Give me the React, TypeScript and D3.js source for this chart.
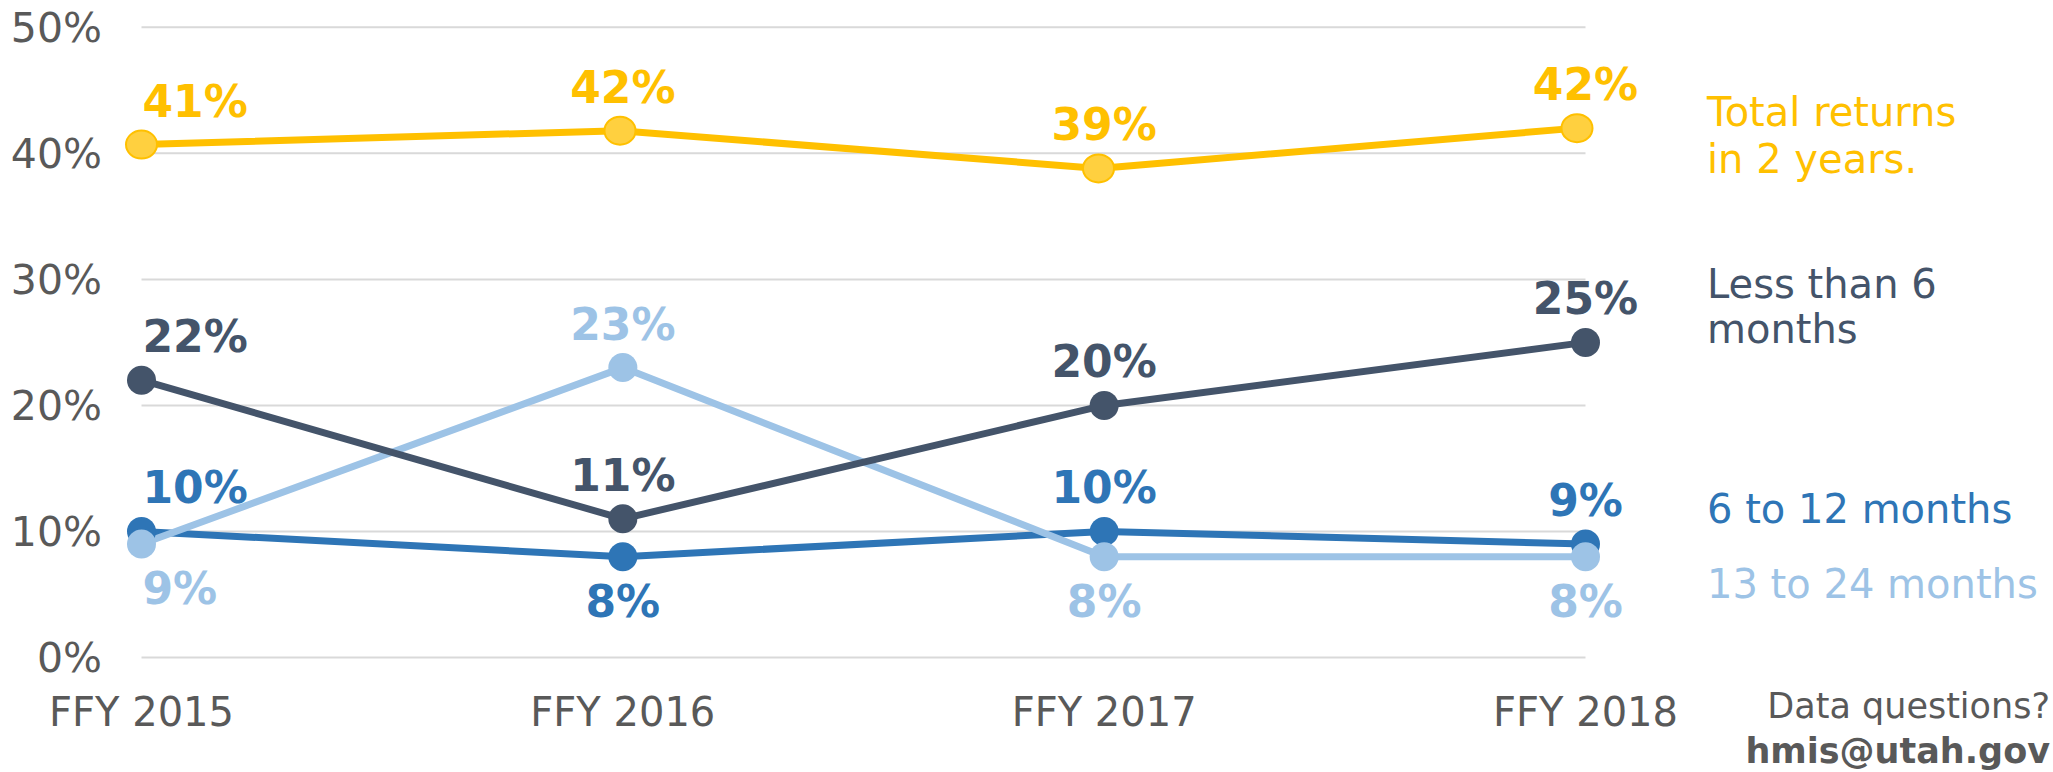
import React from "react";
import * as d3 from "d3";

const categories = ["FFY 2015", "FFY 2016", "FFY 2017", "FFY 2018"];
const yTicks = [0, 10, 20, 30, 40, 50];

const totalReturns = [40.7, 41.8, 38.8, 42.0];
const lessThan6 = [22, 11, 20, 25];
const sixTo12 = [10, 8, 10, 9];
const thirteenTo24 = [9, 23, 8, 8];

const totalPos = ["above", "above", "above", "above"];
const lessPos = ["above", "above", "above", "above"];
const sixPos = ["above", "below", "above", "above"];
const thirteenPos = ["below", "above", "below", "below"];

const legendTotal = ["Total returns", "in 2 years."];
const legendLess = ["Less than 6", "months"];
const legendSix = ["6 to 12 months"];
const legendThirteen = ["13 to 24 months"];

const W = 2053;
const H = 772;
const FONT = "'DejaVu Sans', Verdana, sans-serif";

const x = d3.scalePoint<string>().domain(categories).range([141.5, 1585.5]);
const xTotal = d3.scalePoint<string>().domain(categories).range([141.5, 1577]);
const y = d3.scaleLinear().domain([0, 50]).range([657.5, 27.3]);

type Series = {
  name: string;
  values: number[];
  pos: string[];
  color: string;
  fill: string;
  xs: d3.ScalePoint<string>;
  legend: string[];
  legendY: number[];
  ellipse?: boolean;
};

const series: Series[] = [
  { name: "total", values: totalReturns, pos: totalPos, color: "#FFC000", fill: "#FFD03F", xs: xTotal, legend: legendTotal, legendY: [125.5, 173], ellipse: true },
  { name: "six", values: sixTo12, pos: sixPos, color: "#2E75B6", fill: "#2E75B6", xs: x, legend: legendSix, legendY: [523] },
  { name: "thirteen", values: thirteenTo24, pos: thirteenPos, color: "#9DC3E6", fill: "#9DC3E6", xs: x, legend: legendThirteen, legendY: [598] },
  { name: "less", values: lessThan6, pos: lessPos, color: "#44546A", fill: "#44546A", xs: x, legend: legendLess, legendY: [298, 343] },
];

export default function App() {
  const line = (s: Series) =>
    d3
      .line<number>()
      .x((_, i) => s.xs(categories[i]) as number)
      .y((v) => y(v))(s.values) as string;

  return (
    <svg
      width={W}
      height={H}
      style={{ position: "absolute", left: 0, top: 0, background: "#fff" }}
      fontFamily={FONT}
    >
      <rect x={0} y={0} width={W} height={H} fill="#fff" />
      {yTicks.map((t) => (
        <line
          key={"g" + t}
          x1={x.range()[0]}
          x2={x.range()[1]}
          y1={y(t)}
          y2={y(t)}
          stroke="#D9D9D9"
          strokeWidth={2}
        />
      ))}
      {yTicks.map((t) => (
        <text
          key={"yl" + t}
          x={102}
          y={y(t) + 14.5}
          textAnchor="end"
          fontSize={41}
          fill="#595959"
        >
          {t + "%"}
        </text>
      ))}
      {categories.map((c) => (
        <text
          key={"xl" + c}
          x={x(c) as number}
          y={726}
          textAnchor="middle"
          fontSize={40}
          fill="#595959"
        >
          {c}
        </text>
      ))}
      {series.map((s) => (
        <path
          key={"l" + s.name}
          d={line(s)}
          fill="none"
          stroke={s.color}
          strokeWidth={7}
          strokeLinejoin="round"
        />
      ))}
      {series.map((s) =>
        s.values.map((v, i) =>
          s.ellipse ? (
            <ellipse
              key={"m" + s.name + i}
              cx={s.xs(categories[i]) as number}
              cy={y(v)}
              rx={15.5}
              ry={14}
              fill={s.fill}
              stroke={s.color}
              strokeWidth={2}
            />
          ) : (
            <circle
              key={"m" + s.name + i}
              cx={s.xs(categories[i]) as number}
              cy={y(v)}
              r={14.5}
              fill={s.fill}
            />
          )
        )
      )}
      {series.map((s) =>
        s.values.map((v, i) => {
          const cx = x(categories[i]) as number;
          const first = i === 0;
          return (
            <text
              key={"d" + s.name + i}
              x={first ? cx + 1 : cx}
              y={s.pos[i] === "above" ? y(v) - 28 : y(v) + 60}
              textAnchor={first ? "start" : "middle"}
              fontSize={44}
              fontWeight="bold"
              fill={s.color}
            >
              {Math.round(v) + "%"}
            </text>
          );
        })
      )}
      {series.map((s) =>
        s.legend.map((t, j) => (
          <text
            key={"lg" + s.name + j}
            x={1707}
            y={s.legendY[j]}
            fontSize={40}
            fill={s.color}
          >
            {t}
          </text>
        ))
      )}
      <text x={2050} y={718} textAnchor="end" fontSize={35} fill="#595959">
        Data questions?
      </text>
      <text
        x={2050}
        y={763}
        textAnchor="end"
        fontSize={35}
        fontWeight="bold"
        fill="#595959"
      >
        hmis@utah.gov
      </text>
    </svg>
  );
}
